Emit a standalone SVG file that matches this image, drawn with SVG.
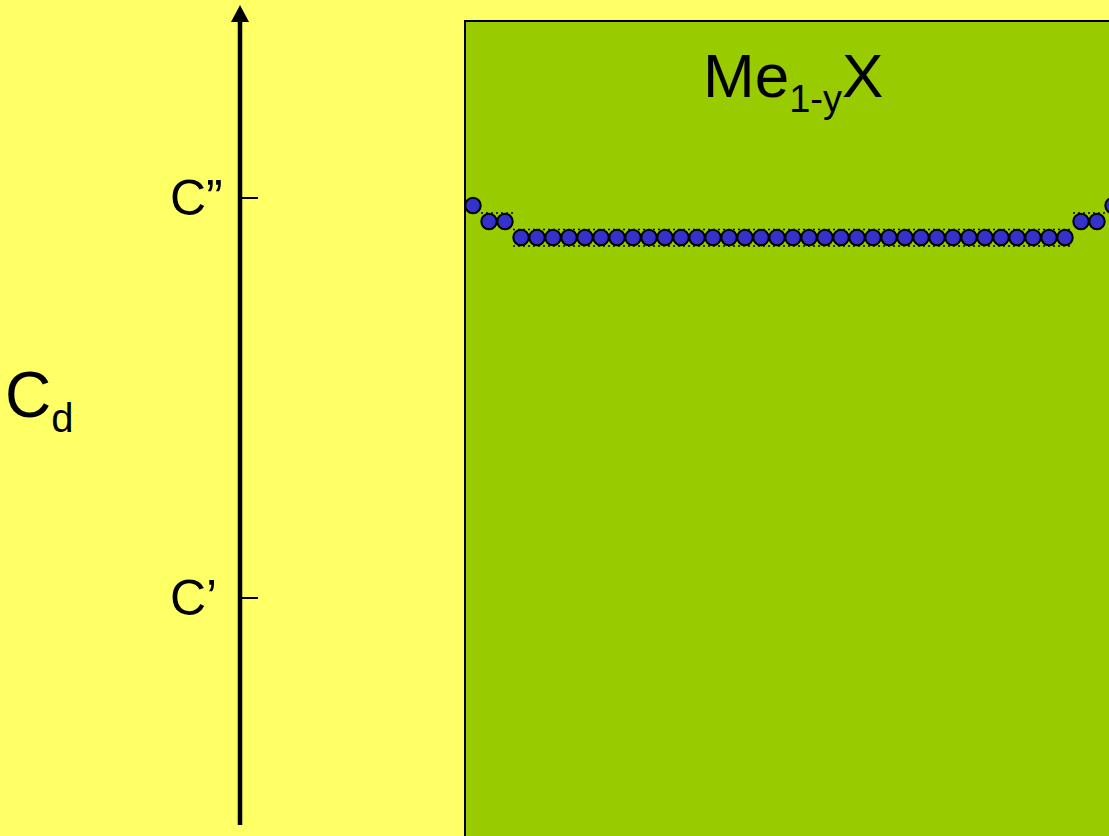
<svg xmlns="http://www.w3.org/2000/svg" width="1109" height="836" viewBox="0 0 1109 836">
<defs>
<style>
text{font-family:"Liberation Sans",Arial,sans-serif;fill:#000}
.dot{fill:#3333CC;stroke:#000;stroke-width:2}
.sel{stroke:#000;stroke-width:1.5;stroke-dasharray:2,3;fill:none}
.tick{stroke:#000;stroke-width:2}
</style>
</defs>
<rect x="0" y="0" width="1109" height="836" fill="#FFFF66"/>
<g id="crystal">
<rect x="465" y="21" width="660" height="830" fill="#99CC00" stroke="#000" stroke-width="2"/>
<text x="703" y="97" font-size="62">Me<tspan font-size="38" dy="15">1-y</tspan><tspan dy="-15" font-size="62">X</tspan></text>
</g>
<g id="axis">
<line x1="240" y1="825" x2="240" y2="20" stroke="#000" stroke-width="4.5"/>
<polygon points="240,5 231,22 249,22" fill="#000"/>
<line class="tick" x1="240" y1="198" x2="258" y2="198"/>
<line class="tick" x1="240" y1="598" x2="258" y2="598"/>
</g>
<g id="labels">
<text x="170" y="215" font-size="50">C”</text>
<text x="170" y="615" font-size="50">C’</text>
<text x="5" y="417" font-size="64">C<tspan font-size="40" dy="15">d</tspan></text>
</g>
<g id="connectors">
<line class="sel" x1="481" y1="213" x2="513" y2="213"/>
<line class="sel" x1="513" y1="229.5" x2="1073" y2="229.5"/>
<line class="sel" x1="513" y1="246" x2="1073" y2="246"/>
<line class="sel" x1="1073" y1="213" x2="1105" y2="213"/>
</g>
<g id="atoms">
<circle class="dot" cx="473" cy="205.5" r="7.7"/>
<circle class="dot" cx="489" cy="221.5" r="7.7"/>
<circle class="dot" cx="505" cy="221.5" r="7.7"/>
<circle class="dot" cx="1081" cy="221.5" r="7.7"/>
<circle class="dot" cx="1097" cy="221.5" r="7.7"/>
<circle class="dot" cx="1113" cy="205.5" r="7.7"/>
<circle class="dot" cx="521" cy="237.5" r="7.7"/>
<circle class="dot" cx="537" cy="237.5" r="7.7"/>
<circle class="dot" cx="553" cy="237.5" r="7.7"/>
<circle class="dot" cx="569" cy="237.5" r="7.7"/>
<circle class="dot" cx="585" cy="237.5" r="7.7"/>
<circle class="dot" cx="601" cy="237.5" r="7.7"/>
<circle class="dot" cx="617" cy="237.5" r="7.7"/>
<circle class="dot" cx="633" cy="237.5" r="7.7"/>
<circle class="dot" cx="649" cy="237.5" r="7.7"/>
<circle class="dot" cx="665" cy="237.5" r="7.7"/>
<circle class="dot" cx="681" cy="237.5" r="7.7"/>
<circle class="dot" cx="697" cy="237.5" r="7.7"/>
<circle class="dot" cx="713" cy="237.5" r="7.7"/>
<circle class="dot" cx="729" cy="237.5" r="7.7"/>
<circle class="dot" cx="745" cy="237.5" r="7.7"/>
<circle class="dot" cx="761" cy="237.5" r="7.7"/>
<circle class="dot" cx="777" cy="237.5" r="7.7"/>
<circle class="dot" cx="793" cy="237.5" r="7.7"/>
<circle class="dot" cx="809" cy="237.5" r="7.7"/>
<circle class="dot" cx="825" cy="237.5" r="7.7"/>
<circle class="dot" cx="841" cy="237.5" r="7.7"/>
<circle class="dot" cx="857" cy="237.5" r="7.7"/>
<circle class="dot" cx="873" cy="237.5" r="7.7"/>
<circle class="dot" cx="889" cy="237.5" r="7.7"/>
<circle class="dot" cx="905" cy="237.5" r="7.7"/>
<circle class="dot" cx="921" cy="237.5" r="7.7"/>
<circle class="dot" cx="937" cy="237.5" r="7.7"/>
<circle class="dot" cx="953" cy="237.5" r="7.7"/>
<circle class="dot" cx="969" cy="237.5" r="7.7"/>
<circle class="dot" cx="985" cy="237.5" r="7.7"/>
<circle class="dot" cx="1001" cy="237.5" r="7.7"/>
<circle class="dot" cx="1017" cy="237.5" r="7.7"/>
<circle class="dot" cx="1033" cy="237.5" r="7.7"/>
<circle class="dot" cx="1049" cy="237.5" r="7.7"/>
<circle class="dot" cx="1065" cy="237.5" r="7.7"/>
</g>
</svg>
